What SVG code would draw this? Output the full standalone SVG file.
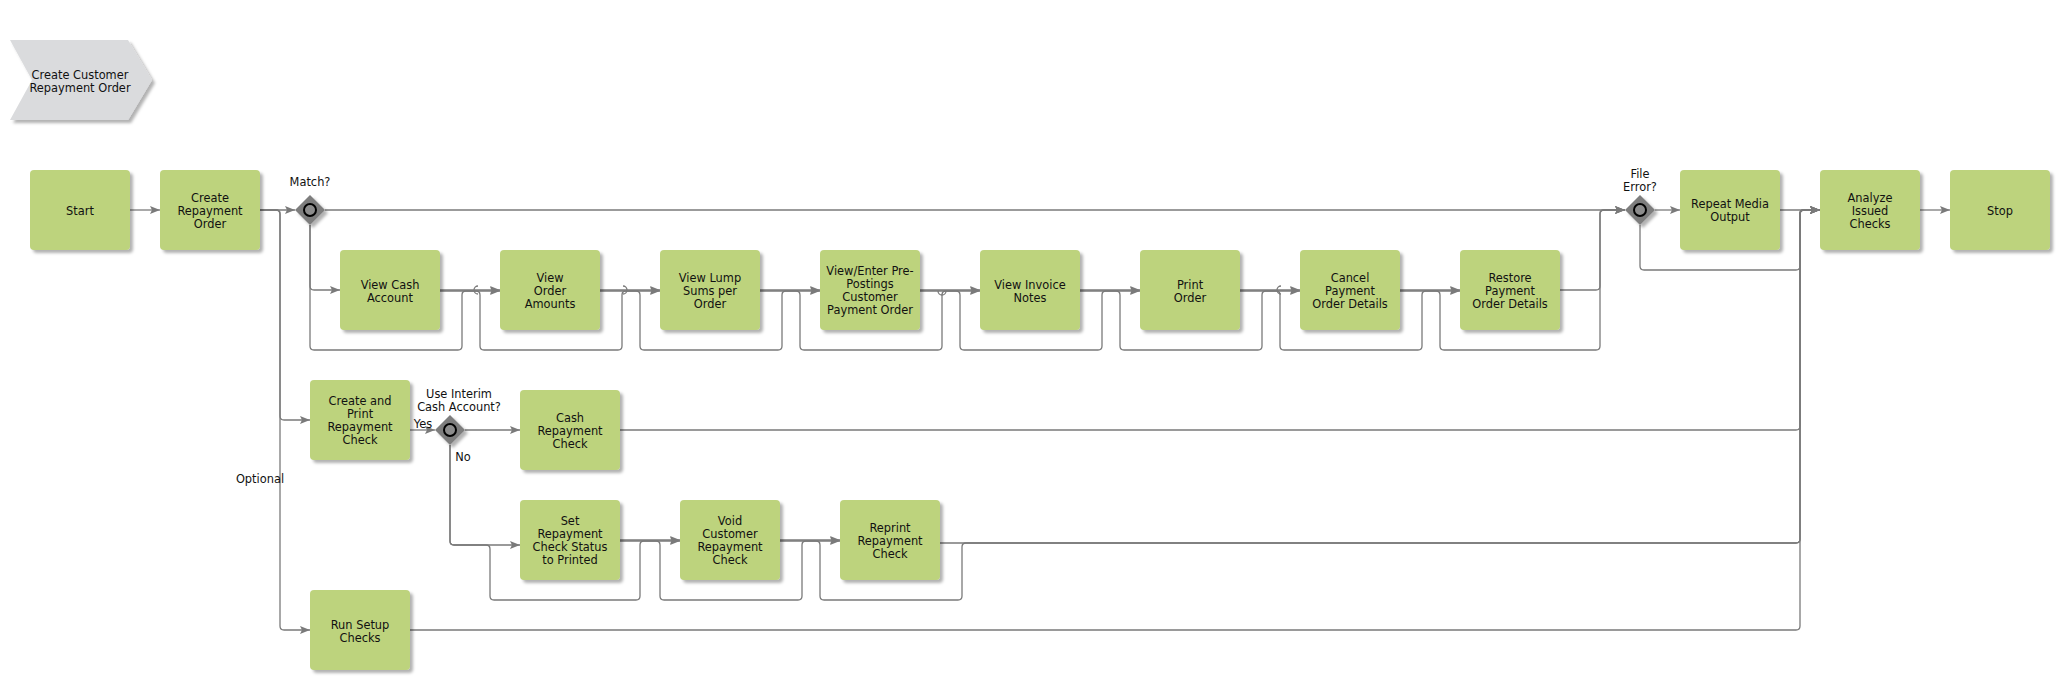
<svg xmlns="http://www.w3.org/2000/svg" width="2060" height="680" viewBox="0 0 2060 680">
<style>
  .box{fill:#bdd37d;filter:url(#sh)}
  .lbl{font-family:"DejaVu Sans","Liberation Sans",sans-serif;font-size:11.4px;fill:#111;text-anchor:middle;dominant-baseline:central}
  .con{fill:none;stroke:#7a7a7a;stroke-width:1.3}
  .arr{marker-end:url(#ah)}
  .gw{fill:#7d7d7d;filter:url(#sh)}
  .gc{fill:#8c8c8c;stroke:#000;stroke-width:2}
</style>
<defs>
  <filter id="sh" x="-20%" y="-20%" width="140%" height="140%">
    <feDropShadow dx="3" dy="3" stdDeviation="1.8" flood-color="#000" flood-opacity="0.3"/>
  </filter>
  <marker id="ah" viewBox="0 0 10 8" refX="10" refY="4" markerWidth="10" markerHeight="8" markerUnits="userSpaceOnUse" orient="auto">
    <path d="M0,0 L10,4 L0,8 L2,4 z" fill="#7a7a7a"/>
  </marker>
</defs>
<rect width="2060" height="680" fill="#fff"/>

<g id="title">
  <polygon points="10,40 128,40 152,80 128,120 10,120 32,80" fill="#dadbdd" filter="url(#sh)"/>
  <text class="lbl" x="80" y="75">Create Customer</text>
  <text class="lbl" x="80" y="88">Repayment Order</text>
</g>

<g id="connectors">
  <path class="con arr" d="M130,210 H160"/>
  <path class="con arr" d="M260,210 H295"/>
  <path class="con arr" d="M260,210 H276 Q280,210 280,214 V416 Q280,420 284,420 H310"/>
  <path class="con arr" d="M260,210 H276 Q280,210 280,214 V626 Q280,630 284,630 H310"/>
  <path class="con arr" d="M310,225 V286 Q310,290 314,290 H340"/>
  <path class="con arr" d="M310,225 V346 Q310,350 314,350 H458 Q462,350 462,346 V295 Q462,291 466,291 H500"/>
  <path class="con arr" d="M325,210 H1625"/>
  <!-- row 2 direct -->
  <path class="con arr" d="M440,290 H500"/>
  <path class="con arr" d="M600,290 H660"/>
  <path class="con arr" d="M760,290 H820"/>
  <path class="con arr" d="M920,290 H980"/>
  <path class="con arr" d="M1080,290 H1140"/>
  <path class="con arr" d="M1240,290 H1300"/>
  <path class="con arr" d="M1400,290 H1460"/>
  <!-- row 2 bypass loops -->
  <path class="con arr" d="M440,291 H476 Q480,291 480,295 V346 Q480,350 484,350 H618 Q622,350 622,346 V295 Q622,291 626,291 H660"/>
  <path class="con arr" d="M600,291 H636 Q640,291 640,295 V346 Q640,350 644,350 H778 Q782,350 782,346 V295 Q782,291 786,291 H820"/>
  <path class="con arr" d="M760,291 H796 Q800,291 800,295 V346 Q800,350 804,350 H938 Q942,350 942,346 V295 Q942,291 946,291 H980"/>
  <path class="con arr" d="M920,291 H956 Q960,291 960,295 V346 Q960,350 964,350 H1098 Q1102,350 1102,346 V295 Q1102,291 1106,291 H1140"/>
  <path class="con arr" d="M1080,291 H1116 Q1120,291 1120,295 V346 Q1120,350 1124,350 H1258 Q1262,350 1262,346 V295 Q1262,291 1266,291 H1300"/>
  <path class="con arr" d="M1240,291 H1276 Q1280,291 1280,295 V346 Q1280,350 1284,350 H1418 Q1422,350 1422,346 V295 Q1422,291 1426,291 H1460"/>
  <path class="con arr" d="M1400,291 H1436 Q1440,291 1440,295 V346 Q1440,350 1444,350 H1596 Q1600,350 1600,346 V214 Q1600,210 1604,210 H1625"/>
  <path class="con arr" d="M1560,290 H1596 Q1600,290 1600,286 V214 Q1600,210 1604,210 H1625"/>
  <!-- line jumps -->
  <path class="con" d="M478,286 A4,4 0 0 0 478,294"/>
  <path class="con" d="M623,286 A4,4 0 0 1 623,294"/>
  <path class="con" d="M938,291 A4,4 0 0 0 946,291"/>
  <path class="con" d="M1281,286 A4,4 0 0 0 1281,294"/>
  <!-- file error -->
  <path class="con arr" d="M1655,210 H1680"/>
  <path class="con arr" d="M1640,225 V266 Q1640,270 1644,270 H1796 Q1800,270 1800,266 V214 Q1800,210 1804,210 H1820"/>
  <path class="con arr" d="M1780,210 H1820"/>
  <path class="con arr" d="M1920,210 H1950"/>
  <!-- row 3 -->
  <path class="con arr" d="M410,430 H435"/>
  <path class="con arr" d="M465,430 H520"/>
  <path class="con arr" d="M450,445 V541 Q450,545 454,545 H520"/>
  <path class="con arr" d="M620,430 H1796 Q1800,430 1800,426 V214 Q1800,210 1804,210 H1820"/>
  <path class="con arr" d="M620,540 H680"/>
  <path class="con arr" d="M450,445 V541 Q450,545 454,545 H486 Q490,545 490,549 V596 Q490,600 494,600 H636 Q640,600 640,596 V545 Q640,541 644,541 H680"/>
  <path class="con arr" d="M620,541 H656 Q660,541 660,545 V596 Q660,600 664,600 H798 Q802,600 802,596 V545 Q802,541 806,541 H840"/>
  <path class="con arr" d="M780,540 H840"/>
  <path class="con arr" d="M780,541 H816 Q820,541 820,545 V596 Q820,600 824,600 H958 Q962,600 962,596 V547 Q962,543 966,543 H1796 Q1800,543 1800,539 V214 Q1800,210 1804,210 H1820"/>
  <path class="con arr" d="M940,543 H1796 Q1800,543 1800,539 V214 Q1800,210 1804,210 H1820"/>
  <path class="con arr" d="M410,630 H1796 Q1800,630 1800,626 V214 Q1800,210 1804,210 H1820"/>
</g>

<g id="labels">
  <text class="lbl" x="310" y="182">Match?</text>
  <text class="lbl" x="1640" y="174">File</text>
  <text class="lbl" x="1640" y="187">Error?</text>
  <text class="lbl" x="459" y="394">Use Interim</text>
  <text class="lbl" x="459" y="407">Cash Account?</text>
  <text class="lbl" x="423" y="424">Yes</text>
  <text class="lbl" x="463" y="457">No</text>
  <text class="lbl" x="260" y="479">Optional</text>
</g>

<g id="start"><rect class="box" x="30" y="170" width="100" height="80" rx="4"/><text class="lbl" x="80" y="211">Start</text></g>
<g id="create-repayment-order"><rect class="box" x="160" y="170" width="100" height="80" rx="4"/><text class="lbl" x="210"><tspan x="210" y="198">Create</tspan><tspan x="210" y="211">Repayment</tspan><tspan x="210" y="224">Order</tspan></text></g>
<g id="gw-match"><polygon class="gw" points="310,195 325,210 310,225 295,210"/><circle class="gc" cx="310" cy="210" r="6"/></g>

<g id="view-cash-account"><rect class="box" x="340" y="250" width="100" height="80" rx="4"/><text class="lbl"><tspan x="390" y="285">View Cash</tspan><tspan x="390" y="298">Account</tspan></text></g>
<g id="view-order-amounts"><rect class="box" x="500" y="250" width="100" height="80" rx="4"/><text class="lbl"><tspan x="550" y="278">View</tspan><tspan x="550" y="291">Order</tspan><tspan x="550" y="304">Amounts</tspan></text></g>
<g id="view-lump-sums"><rect class="box" x="660" y="250" width="100" height="80" rx="4"/><text class="lbl"><tspan x="710" y="278">View Lump</tspan><tspan x="710" y="291">Sums per</tspan><tspan x="710" y="304">Order</tspan></text></g>
<g id="view-enter-prepostings"><rect class="box" x="820" y="250" width="100" height="80" rx="4"/><text class="lbl"><tspan x="870" y="271">View/Enter Pre-</tspan><tspan x="870" y="284">Postings</tspan><tspan x="870" y="297">Customer</tspan><tspan x="870" y="310">Payment Order</tspan></text></g>
<g id="view-invoice-notes"><rect class="box" x="980" y="250" width="100" height="80" rx="4"/><text class="lbl"><tspan x="1030" y="285">View Invoice</tspan><tspan x="1030" y="298">Notes</tspan></text></g>
<g id="print-order"><rect class="box" x="1140" y="250" width="100" height="80" rx="4"/><text class="lbl"><tspan x="1190" y="285">Print</tspan><tspan x="1190" y="298">Order</tspan></text></g>
<g id="cancel-payment"><rect class="box" x="1300" y="250" width="100" height="80" rx="4"/><text class="lbl"><tspan x="1350" y="278">Cancel</tspan><tspan x="1350" y="291">Payment</tspan><tspan x="1350" y="304">Order Details</tspan></text></g>
<g id="restore-payment"><rect class="box" x="1460" y="250" width="100" height="80" rx="4"/><text class="lbl"><tspan x="1510" y="278">Restore</tspan><tspan x="1510" y="291">Payment</tspan><tspan x="1510" y="304">Order Details</tspan></text></g>

<g id="gw-file-error"><polygon class="gw" points="1640,195 1655,210 1640,225 1625,210"/><circle class="gc" cx="1640" cy="210" r="6"/></g>
<g id="repeat-media-output"><rect class="box" x="1680" y="170" width="100" height="80" rx="4"/><text class="lbl"><tspan x="1730" y="204">Repeat Media</tspan><tspan x="1730" y="217">Output</tspan></text></g>
<g id="analyze-issued-checks"><rect class="box" x="1820" y="170" width="100" height="80" rx="4"/><text class="lbl"><tspan x="1870" y="198">Analyze</tspan><tspan x="1870" y="211">Issued</tspan><tspan x="1870" y="224">Checks</tspan></text></g>
<g id="stop"><rect class="box" x="1950" y="170" width="100" height="80" rx="4"/><text class="lbl" x="2000" y="211">Stop</text></g>

<g id="create-print-check"><rect class="box" x="310" y="380" width="100" height="80" rx="4"/><text class="lbl"><tspan x="360" y="401">Create and</tspan><tspan x="360" y="414">Print</tspan><tspan x="360" y="427">Repayment</tspan><tspan x="360" y="440">Check</tspan></text></g>
<g id="gw-use-interim"><polygon class="gw" points="450,415 465,430 450,445 435,430"/><circle class="gc" cx="450" cy="430" r="6"/></g>
<g id="cash-repayment-check"><rect class="box" x="520" y="390" width="100" height="80" rx="4"/><text class="lbl"><tspan x="570" y="418">Cash</tspan><tspan x="570" y="431">Repayment</tspan><tspan x="570" y="444">Check</tspan></text></g>
<g id="set-check-status"><rect class="box" x="520" y="500" width="100" height="80" rx="4"/><text class="lbl"><tspan x="570" y="521">Set</tspan><tspan x="570" y="534">Repayment</tspan><tspan x="570" y="547">Check Status</tspan><tspan x="570" y="560">to Printed</tspan></text></g>
<g id="void-check"><rect class="box" x="680" y="500" width="100" height="80" rx="4"/><text class="lbl"><tspan x="730" y="521">Void</tspan><tspan x="730" y="534">Customer</tspan><tspan x="730" y="547">Repayment</tspan><tspan x="730" y="560">Check</tspan></text></g>
<g id="reprint-check"><rect class="box" x="840" y="500" width="100" height="80" rx="4"/><text class="lbl"><tspan x="890" y="528">Reprint</tspan><tspan x="890" y="541">Repayment</tspan><tspan x="890" y="554">Check</tspan></text></g>
<g id="run-setup-checks"><rect class="box" x="310" y="590" width="100" height="80" rx="4"/><text class="lbl"><tspan x="360" y="625">Run Setup</tspan><tspan x="360" y="638">Checks</tspan></text></g>
</svg>
